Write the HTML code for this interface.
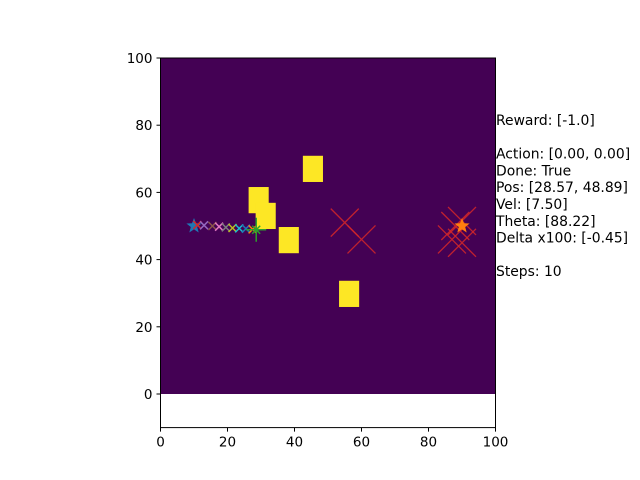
<!DOCTYPE html>
<html><head><meta charset="utf-8"><style>
body{margin:0;background:#fff}
svg{display:block;font-family:"DejaVu Sans","Liberation Sans",sans-serif}
</style></head><body>
<svg id="chart" width="640" height="480" xmlns="http://www.w3.org/2000/svg">
<rect x="0" y="0" width="640" height="480" fill="#fff"/>
<g id="plot"></g>
</svg>
<script>
const obstacleX=[29.3,31.4,38.3,45.5,56.3];
const obstacleY=[57.7,53,45.8,67,29.8];
const crossX=[55,60,90,87,90,88];
const crossY=[51,46,51.5,46,45,50];
const trajX=[11,13,15.5,17.5,19.5,21.5,23.5,25.5,27.5];
const trajY=[50.3,50.2,50,49.8,49.6,49.4,49.3,49.2,49];
const startPos=[10,50];
const agentPos=[28.57,48.89];
const goalPos=[90,50];
const xTicks=[0,20,40,60,80,100];
const yTicks=[0,20,40,60,80,100];
const infoLines=["Reward: [-1.0]","","Action: [0.00, 0.00]","Done: True","Pos: [28.57, 48.89]","Vel: [7.50]","Theta: [88.22]","Delta x100: [-0.45]","","Steps: 10"];

const NS="http://www.w3.org/2000/svg";
const g=document.getElementById('plot');
const X=v=>160.5+v*3.35;
const Y=v=>394-v*3.36;
function mk(t,a,p){const e=document.createElementNS(NS,t);for(const k in a)e.setAttribute(k,a[k]);(p||g).appendChild(e);return e;}
const cyc=['#d62728','#9467bd','#8c564b','#e377c2','#7f7f7f','#bcbd22','#17becf','#1f77b4','#ff7f0e'];

let e=mk('rect',{x:X(0),y:Y(100),width:X(100)-X(0),height:Y(0)-Y(100),fill:'#440154'});



obstacleX.forEach((ox,i)=>{
 const r=mk('rect',{x:X(ox-3),y:Y(obstacleY[i]+3.9),width:X(6)-X(0),height:Y(0)-Y(7.8),fill:'#fde725'});
 
 
});

crossX.forEach((cx,i)=>{
 const px=X(cx),py=Y(crossY[i]),s=14;
 const c=mk('path',{d:`M${px-s},${py-s}L${px+s},${py+s}M${px-s},${py+s}L${px+s},${py-s}`,stroke:'#d62728','stroke-width':1.3,fill:'none','stroke-opacity':0.85});
 
 
});

function star(cx,cy,r,fill){
 let d='';for(let k=0;k<10;k++){const a=-Math.PI/2+k*Math.PI/5;const rr=k%2?r*0.42:r;d+=(k?'L':'M')+(cx+rr*Math.cos(a)).toFixed(1)+','+(cy+rr*Math.sin(a)).toFixed(1);}
 return mk('path',{d:d+'Z',fill:fill});
}
e=star(X(startPos[0]),Y(startPos[1]),8,'#1f77b4');



trajX.forEach((tx,i)=>{
 const px=X(tx),py=Y(trajY[i]),s=4;
 const m=mk('path',{d:`M${px-s},${py-s}L${px+s},${py+s}M${px-s},${py+s}L${px+s},${py-s}`,stroke:cyc[i%cyc.length],'stroke-width':1.5,fill:'none'});
 
 
});

{const px=X(agentPos[0]),py=Y(agentPos[1]);
 const a=mk('path',{d:`M${px-10},${py}L${px+10},${py}M${px},${py-12}L${px},${py+12}M${px-4},${py-4}L${px+4},${py+4}M${px-4},${py+4}L${px+4},${py-4}`,stroke:'#2ca02c','stroke-width':1.5,fill:'none'});
 
 }

e=star(X(goalPos[0]),Y(goalPos[1]),8,'#ff7f0e');



e=mk('rect',{x:X(0),y:Y(100),width:X(100)-X(0),height:Y(-10)-Y(100),fill:'none',stroke:'#000','stroke-width':1});



xTicks.forEach(t=>{
 const l=mk('line',{x1:X(t),x2:X(t),y1:Y(-10),y2:Y(-10)+4,stroke:'#000'});
 
 
 const tx=mk('text',{x:X(t),y:Y(-10)+19,'text-anchor':'middle','font-size':13.5,fill:'#000'});
 tx.textContent=t;
 
 
});
yTicks.forEach(t=>{
 const l=mk('line',{x1:X(0)-4,x2:X(0),y1:Y(t),y2:Y(t),stroke:'#000'});
 
 
 const tx=mk('text',{x:X(0)-8,y:Y(t)+5,'text-anchor':'end','font-size':13.5,fill:'#000'});
 tx.textContent=t;
 
 
});

infoLines.forEach((s,i)=>{
 if(!s)return;
 const tx=mk('text',{x:496,y:125+i*16.8,'font-size':13.9,fill:'#000'});
 tx.textContent=s;
 
 
});
</script>
</body></html>
